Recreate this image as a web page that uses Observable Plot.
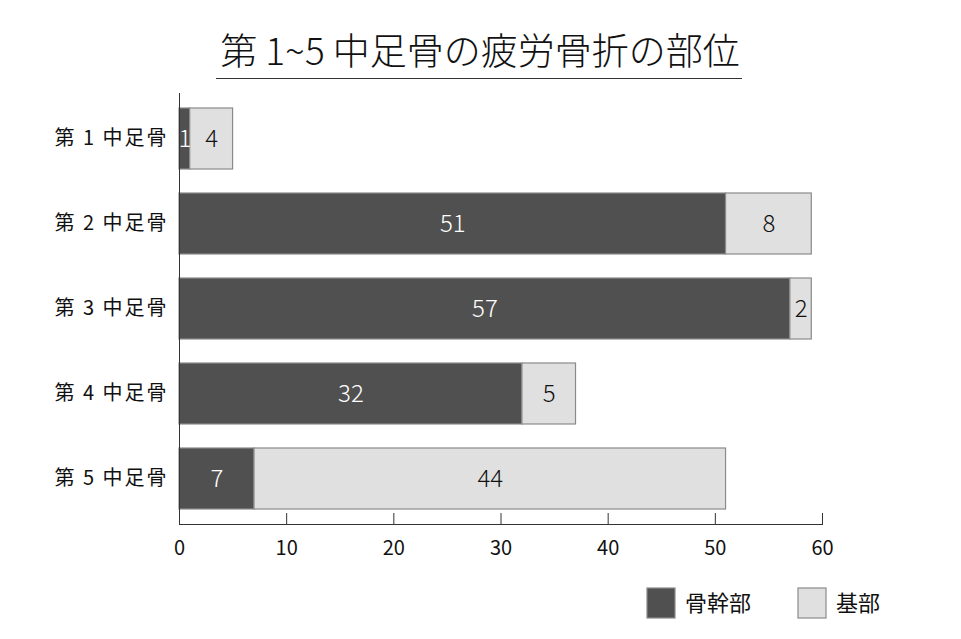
<!DOCTYPE html>
<html><head><meta charset="utf-8">
<script src="https://cdn.jsdelivr.net/npm/d3@7"></script>
<script src="https://cdn.jsdelivr.net/npm/@observablehq/plot@0.6"></script>
<style>
body{margin:0;background:#fff;}
#chart{position:relative;width:961px;height:639px;}
</style></head>
<body><div id="chart"></div>
<script>
const title = "第 1~5 中足骨の疲労骨折の部位";
const bones = ["第 1 中足骨","第 2 中足骨","第 3 中足骨","第 4 中足骨","第 5 中足骨"];
const series = ["骨幹部","基部"];
const shaft = [1,51,57,32,7];
const base = [4,8,2,5,44];
const xTicks = [0,10,20,30,40,50,60];
const fills = ["#505050","#e0e0e0"];
const textFills = ["#ffffff","#111111"];

const data = [];
bones.forEach((b,i)=>{
  data.push({bone:b, part:series[0], value:shaft[i]});
  data.push({bone:b, part:series[1], value:base[i]});
});

const font = "'Noto Sans CJK JP', 'Noto Sans', sans-serif";
const W=961,H=639, mL=179, mR=139, mT=93, mB=115;
const plot = Plot.plot({
  width:W, height:H,
  marginLeft:mL, marginRight:mR, marginTop:mT, marginBottom:mB,
  style:{fontFamily:font, fontSize:"19px", color:"#222", background:"#fff"},
  x:{domain:[0,60], ticks:xTicks, label:null},
  y:{domain:bones, paddingInner:0.28, paddingOuter:0.15, label:null},
  color:{domain:series, range:fills},
  marks:[
    Plot.barX(data, Plot.stackX({x:"value", y:"bone", fill:"part", stroke:"#8a8a8a", strokeWidth:1.2})),
    Plot.textX(data, Plot.stackX({x:"value", y:"bone", text:d=>String(d.value),
      fill:d=>textFills[series.indexOf(d.part)], fontSize:24, fontWeight:300})),
    Plot.ruleX(xTicks, {stroke:"#333", insetTop:H-mT-mB-11}),
    Plot.frame({anchor:"bottom", stroke:"#333"}),
    Plot.frame({anchor:"left", stroke:"#333"}),
    Plot.axisX({ticks:xTicks, tickSize:0, tickPadding:16, fontSize:20, fill:"#111", label:null}),
    Plot.axisY({tickSize:0, tickPadding:11, fontSize:20, fill:"#111", label:null})
  ]
});
document.getElementById("chart").appendChild(plot);

const svg = d3.select(plot);
// widen y tick labels spacing
svg.selectAll("[aria-label='y-axis tick label'] text").style("letter-spacing","2px");
svg.append("text").attr("x",480).attr("y",65)
  .style("text-anchor","middle").style("font-size","37px").style("font-family",font).style("font-weight","300")
  .attr("fill","#111").text(title);
svg.append("line").attr("x1",216).attr("x2",742).attr("y1",78.5).attr("y2",78.5).attr("stroke","#333").attr("stroke-width",1);

const legX = [647, 798];
series.forEach((s,i)=>{
  const g = svg.append("g");
  g.append("rect").attr("x",legX[i]).attr("y",588).attr("width",28).attr("height",30)
    .attr("fill",fills[i]).attr("stroke","#8a8a8a").attr("stroke-width",1.2);
  g.append("text").attr("x",legX[i]+38).attr("y",603).attr("dy","0.35em")
    .style("text-anchor","start").style("font-size","22px").style("font-family",font)
    .attr("fill","#111").text(s);
});
</script></body></html>
